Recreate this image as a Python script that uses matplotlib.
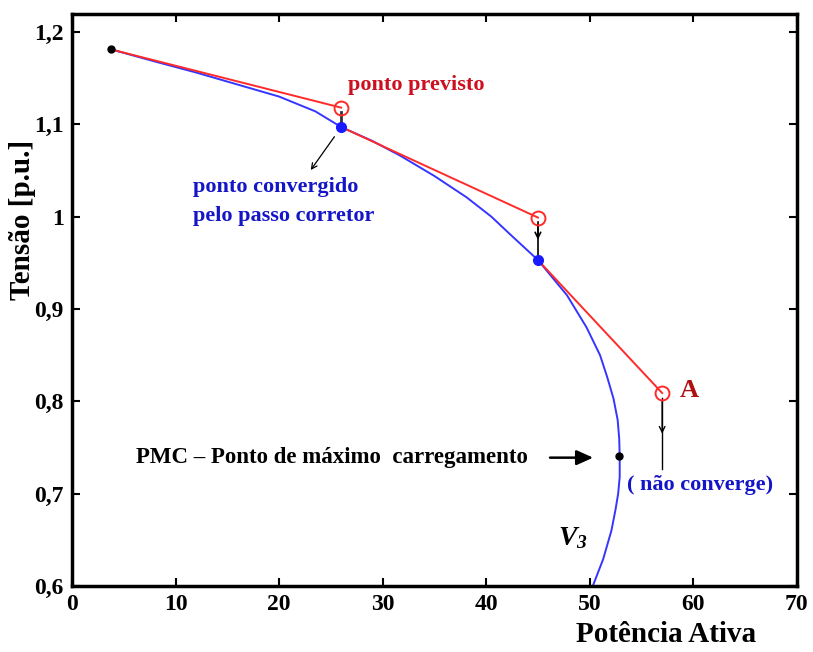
import matplotlib
matplotlib.use("Agg")
import matplotlib.pyplot as plt
from matplotlib.ticker import FuncFormatter

# curva PV (V3)
p_curve = [3.8, 8, 12, 16, 20, 23.5, 26, 29, 31.7, 35, 38.1, 40.5, 42.3, 45,
           47.8, 49.7, 51.0, 51.7, 52.3, 52.7, 52.85, 52.9, 52.9, 52.75, 52.5,
           52.1, 51.3, 50.3]
v_curve = [1.181, 1.168, 1.156, 1.143, 1.130, 1.114, 1.097, 1.082, 1.066, 1.044,
           1.021, 1.000, 0.981, 0.953, 0.915, 0.880, 0.850, 0.826, 0.803, 0.780,
           0.760, 0.741, 0.718, 0.700, 0.683, 0.660, 0.629, 0.600]

# passos previsores (vermelho)
p_pred_start = [3.8, 26, 45]
v_pred_start = [1.181, 1.097, 0.953]
p_pred = [26, 45, 57]
v_pred = [1.118, 0.999, 0.809]

# pontos convergidos (azul)
p_conv = [26, 45]
v_conv = [1.097, 0.953]

p_init, v_init = 3.8, 1.181
p_pmc, v_pmc = 52.85, 0.741

xticks = [0, 10, 20, 30, 40, 50, 60, 70]
yticks = [0.6, 0.7, 0.8, 0.9, 1.0, 1.1, 1.2]

plt.rcParams["font.family"] = ["Liberation Serif", "DejaVu Serif"]
plt.rcParams["font.weight"] = "bold"
plt.rcParams["mathtext.fontset"] = "custom"
plt.rcParams["mathtext.it"] = "Liberation Serif:italic:bold"
plt.rcParams["mathtext.rm"] = "Liberation Serif:italic:bold"

fig = plt.figure(figsize=(8.13, 6.52), dpi=100)
ax = fig.add_axes([0.0886, 0.1012, 0.8914, 0.8773])

red = "#ff2a2a"
blue = "#3535ff"
txt_red = "#cc1020"
txt_blue = "#1515c8"

ax.plot(p_curve, v_curve, color=blue, lw=1.4, zorder=2)
for i in range(len(p_pred)):
    ax.plot([p_pred_start[i], p_pred[i]], [v_pred_start[i], v_pred[i]],
            color=red, lw=1.4, zorder=3)
ax.plot(p_pred, v_pred, "o", ms=10, mfc="none", mec=red, mew=1.4, zorder=4)
ax.plot(p_conv, v_conv, "o", ms=7, color="#1a1aff", zorder=5)
ax.plot([p_init, p_pmc], [v_init, v_pmc], "o", ms=5, color="black", zorder=5)

# setas do passo corretor
ax.plot([26, 26], [1.113, 1.099], color="#333333", lw=2, zorder=3)
ax.annotate("", xy=(22.9, 1.048), xytext=(25.5, 1.089),
            arrowprops=dict(arrowstyle="->", color="black", lw=0.9))
ax.plot([45, 45], [0.994, 0.956], color="black", lw=1.2, zorder=3)
ax.annotate("", xy=(45, 0.972), xytext=(45, 0.994),
            arrowprops=dict(arrowstyle="->", color="black", lw=1.2))
ax.plot([57, 57], [0.804, 0.727], color="black", lw=1.0, zorder=3)
ax.annotate("", xy=(57, 0.762), xytext=(57, 0.804),
            arrowprops=dict(arrowstyle="->", color="black", lw=1.0))
ax.annotate("", xy=(50.6, 0.739), xytext=(45.9, 0.739),
            arrowprops=dict(arrowstyle="-|>,head_length=1.0,head_width=0.45",
                            color="black", lw=1.8))

ax.text(26.7, 1.143, "ponto previsto", color=txt_red, fontsize=16,
        ha="left", va="center")
ax.text(11.7, 1.032, "ponto convergido", color=txt_blue, fontsize=16,
        ha="left", va="center")
ax.text(11.7, 1.001, "pelo passo corretor", color=txt_blue, fontsize=16,
        ha="left", va="center")
ax.text(58.7, 0.812, "A", color="#b01010", fontsize=19, ha="left", va="center")
ax.text(6.2, 0.739, "PMC \u2013 Ponto de máximo  carregamento", color="black",
        fontsize=16.5, ha="left", va="center")
ax.text(53.6, 0.709, "( não converge)", color=txt_blue, fontsize=16,
        ha="left", va="center")
ax.text(48.4, 0.652, "$V_3$", color="black", fontsize=20,
        ha="center", va="center")

ax.set_xlim(0, 70)
ax.set_ylim(0.6, 1.2194)
ax.set_xticks(xticks)
ax.set_yticks(yticks)
ax.yaxis.set_major_formatter(FuncFormatter(lambda v, _: f"{v:g}".replace(".", ",")))
ax.tick_params(direction="in", length=6, width=1.5, top=True, right=True,
               labelsize=17, pad=6)
for s in ax.spines.values():
    s.set_linewidth(2.5)

ax.text(-0.068, 0.64, "Tensão [p.u.]", transform=ax.transAxes, rotation=90,
        fontsize=21, ha="center", va="center")
ax.text(0.82, -0.084, "Potência Ativa", transform=ax.transAxes,
        fontsize=21, ha="center", va="center")

fig.savefig("out.png", dpi=100)
